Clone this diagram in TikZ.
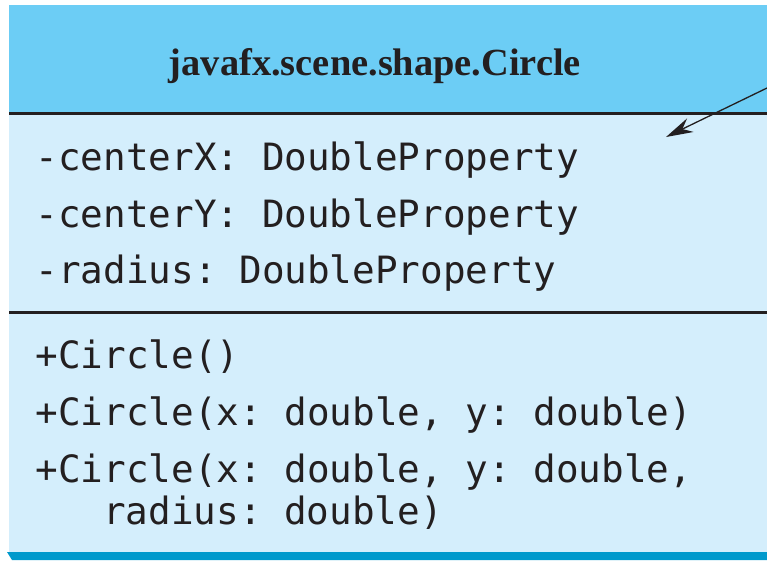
\documentclass[tikz,border=0pt]{standalone}
\usepackage{fontspec}
\setmainfont{Liberation Serif}
\setmonofont{DejaVu Sans Mono}
\usetikzlibrary{arrows.meta}

\definecolor{headblue}{RGB}{108,205,245}
\definecolor{bodyblue}{RGB}{212,238,252}
\definecolor{shadeblue}{RGB}{0,153,204}
\definecolor{inkgray}{RGB}{35,31,32}

\tikzset{
    member/.style={anchor=base west, inner sep=0pt, text=inkgray,
        font=\fontsize{37.6}{40}\selectfont\ttfamily},
    divider/.style={draw=inkgray, line width=3pt},
}

\begin{document}
\begin{tikzpicture}[x=1pt, y=-1pt]
    \useasboundingbox (0,0) rectangle (767,560);
    
    \coordinate (boxtl) at (9, 5);
    \coordinate (headbr) at (767, 113);
    \coordinate (bodybr) at (767, 552);
    \coordinate (sepA) at (9, 113);
    \coordinate (sepB) at (9, 312);
    
    \fill[bodyblue] (sepA) rectangle (bodybr);
    \fill[headblue] (boxtl) rectangle (headbr);
    \fill[shadeblue] (7, 552) -- (767, 552) -- (767, 560) -- (12, 560) -- cycle;
    
    \draw[divider] (sepA) -- ++(758, 0);
    \draw[divider] (sepB) -- ++(758, 0);
    
    \node[anchor=base, inner sep=0pt, text=inkgray,
        font=\fontsize{38.4}{40}\selectfont\bfseries] (title) at (375, 75)
        {javafx.scene.shape.Circle};
    
    \node[member] (attrX) at (35.5, 170) {-centerX: DoubleProperty};
    \node[member] (attrY) at (35.5, 227) {-centerY: DoubleProperty};
    \node[member] (attrR) at (35.5, 283) {-radius: DoubleProperty};
    
    \node[member] (ctorA) at (35.5, 368) {+Circle()};
    \node[member] (ctorB) at (35.5, 425) {+Circle(x: double, y: double)};
    \node[member] (ctorC) at (35.5, 482) {+Circle(x: double, y: double,};
    \node[member] (ctorCc) at (103, 524) {radius: double)};
    
    \coordinate (arrowfrom) at (767, 88);
    \coordinate (arrowto) at (666, 137);
    \draw[-{Stealth[length=27pt, width=15pt]}, line width=1.3pt, draw=inkgray]
        (arrowfrom) -- (arrowto);
    
\end{tikzpicture}
\end{document}
